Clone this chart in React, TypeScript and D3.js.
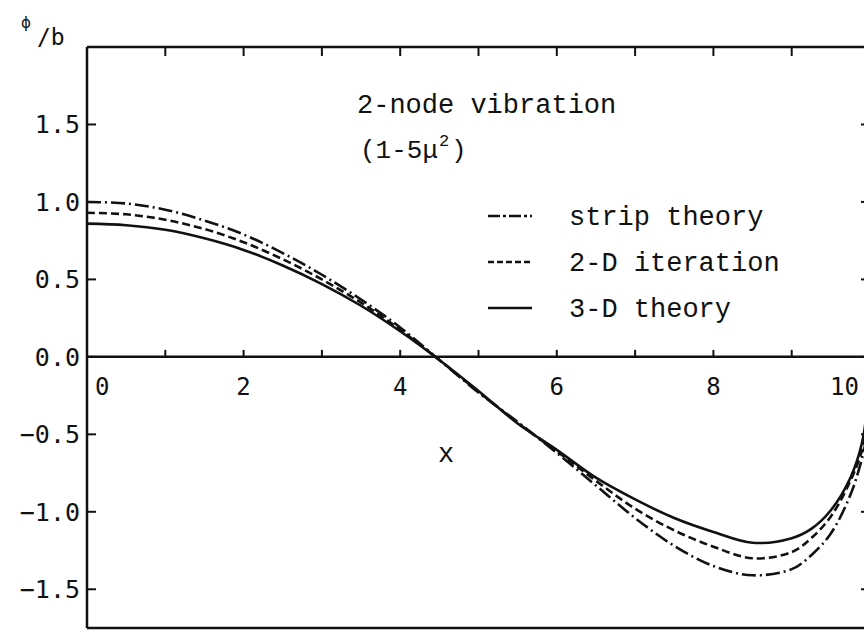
import React from "react";
import * as d3 from "d3";

// Mode shape of the 2-node vibration along the hull (x), normalised by b
const xs = [0, 0.5, 1, 1.5, 2, 2.5, 3, 3.5, 4, 4.5, 5, 5.5, 6, 6.5, 7, 7.5, 8, 8.5, 9, 9.25, 9.5, 9.75, 9.9, 10];
const stripTheory = [1.0, 0.99, 0.95, 0.88, 0.79, 0.67, 0.53, 0.37, 0.19, -0.02, -0.23, -0.42, -0.62, -0.83, -1.04, -1.22, -1.35, -1.41, -1.37, -1.28, -1.14, -0.89, -0.65, -0.4];
const iteration2D = [0.93, 0.92, 0.885, 0.825, 0.74, 0.63, 0.5, 0.35, 0.175, -0.02, -0.225, -0.425, -0.61, -0.8, -0.98, -1.12, -1.225, -1.3, -1.26, -1.17, -1.03, -0.8, -0.6, -0.35];
const theory3D = [0.86, 0.85, 0.82, 0.765, 0.69, 0.59, 0.47, 0.33, 0.165, -0.02, -0.22, -0.43, -0.6, -0.78, -0.92, -1.04, -1.13, -1.2, -1.17, -1.11, -0.99, -0.78, -0.55, -0.15];

const xTickLabels = [0, 2, 4, 6, 8, 10];
const xMinorTicks = [1, 2, 3, 4, 5, 6, 7, 8, 9];
const yTickValues = [1.5, 1.0, 0.5, 0.0, -0.5, -1.0, -1.5];

const seriesNames = ["strip theory", "2-D iteration", "3-D theory"];
const seriesDash = ["14,4,2,4", "8,4", "none"];
const legendDash = ["12,3,3,3", "6,3", "none"];

const W = 864;
const H = 633;
const INK = "#111";
const MONO = "'Liberation Mono', 'Courier New', monospace";
const NUM = "'DejaVu Sans Mono', monospace";

export default function App() {
  const x = d3.scaleLinear().domain([0, 10]).range([87, 870]);
  const y = d3.scaleLinear().domain([-1.75, 2]).range([628, 47]);

  const line = d3
    .line<number>()
    .x((_, i) => x(xs[i]))
    .y((d) => y(d))
    .curve(d3.curveCatmullRom.alpha(0.5));

  const series = [stripTheory, iteration2D, theory3D];

  const left = x(0);
  const right = x(10);
  const top = y(2);
  const bottom = y(-1.75);
  const zero = y(0);

  return (
    <svg
      width={W}
      height={H}
      style={{ position: "absolute", left: 0, top: 0, background: "#fff" }}
    >
      <rect x={0} y={0} width={W} height={H} fill="#fff" />

      {/* frame */}
      <g stroke={INK} strokeWidth={2.5} fill="none">
        <line x1={left} y1={top} x2={right} y2={top} />
        <line x1={left} y1={top} x2={left} y2={bottom} />
        <line x1={right} y1={top} x2={right} y2={bottom} />
        <line x1={left} y1={bottom} x2={right} y2={bottom} />
        <line x1={left} y1={zero} x2={right} y2={zero} />
      </g>

      {/* ticks */}
      <g stroke={INK} strokeWidth={2}>
        {xMinorTicks.map((t) => (
          <g key={"xt" + t}>
            <line x1={x(t)} y1={top} x2={x(t)} y2={top + 9} />
            <line x1={x(t)} y1={zero} x2={x(t)} y2={zero - 7} />
          </g>
        ))}
        {yTickValues.map((t) => (
          <g key={"yt" + t}>
            <line x1={left} y1={y(t)} x2={left + 9} y2={y(t)} />
            <line x1={right} y1={y(t)} x2={right - 9} y2={y(t)} />
          </g>
        ))}
      </g>

      {/* y tick labels */}
      <g fontFamily={NUM} fontSize={25} fill={INK} textAnchor="end">
        {yTickValues.map((t) => (
          <text key={"yl" + t} x={80} y={y(t)} dy="0.36em">
            {d3.format(".1f")(t)}
          </text>
        ))}
      </g>

      {/* x tick labels */}
      <g fontFamily={NUM} fontSize={24} fill={INK}>
        {xTickLabels.map((t) => {
          const anchor = t === 0 ? "start" : t === 10 ? "end" : "middle";
          const px = t === 0 ? x(t) + 8 : t === 10 ? x(t) - 11 : x(t);
          return (
            <text key={"xl" + t} x={px} y={395} textAnchor={anchor}>
              {t}
            </text>
          );
        })}
      </g>

      {/* axis titles */}
      <text x={26} y={28} fontFamily="'DejaVu Sans', sans-serif" fontSize={15} fill={INK} textAnchor="middle">
        ϕ
      </text>
      <text x={37} y={45} fontFamily={NUM} fontSize={23} fill={INK}>
        /b
      </text>
      <text x={446} y={462} fontFamily={MONO} fontSize={27} fill={INK} textAnchor="middle">
        x
      </text>

      {/* annotation */}
      <g fontFamily={MONO} fill={INK}>
        <text x={357} y={113} fontSize={27}>
          2-node vibration
        </text>
        <text x={360} y={158} fontSize={26}>
          (1-5μ
        </text>
        <text x={439} y={146} fontSize={17}>
          2
        </text>
        <text x={451} y={158} fontSize={26}>
          )
        </text>
      </g>

      {/* curves */}
      <g fill="none" stroke={INK} strokeWidth={2.6} strokeLinecap="butt">
        {series.map((s, i) => (
          <path
            key={seriesNames[i]}
            d={line(s) || ""}
            strokeDasharray={seriesDash[i] === "none" ? undefined : seriesDash[i]}
          />
        ))}
      </g>

      {/* legend */}
      <g>
        {seriesNames.map((name, i) => {
          const ly = 216 + i * 46;
          return (
            <g key={"lg" + name}>
              <line
                x1={488}
                x2={532}
                y1={ly}
                y2={ly}
                stroke={INK}
                strokeWidth={2.4}
                strokeDasharray={legendDash[i] === "none" ? undefined : legendDash[i]}
              />
              <text x={569} y={ly} dy="0.32em" fontFamily={MONO} fontSize={27} fill={INK}>
                {name}
              </text>
            </g>
          );
        })}
      </g>
    </svg>
  );
}
